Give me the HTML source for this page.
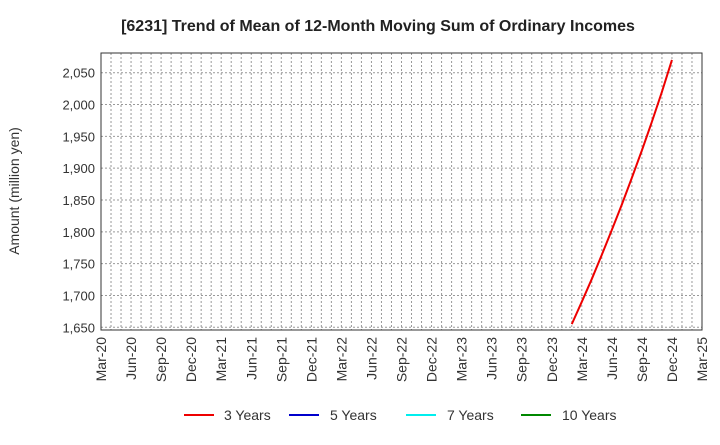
<!DOCTYPE html>
<html><head><meta charset="utf-8"><style>
body{margin:0;background:#fff;font-family:"Liberation Sans",Arial,sans-serif}
svg text{font-family:"Liberation Sans",Arial,sans-serif}
</style></head><body>
<svg id="c" width="720" height="440" xmlns="http://www.w3.org/2000/svg">
<text x="378" y="31" text-anchor="middle" font-size="16" font-weight="bold" fill="#222">[6231]  Trend of Mean of 12-Month Moving Sum of Ordinary Incomes</text>
<text transform="translate(19,191) rotate(-90)" text-anchor="middle" font-size="14" fill="#333">Amount (million yen)</text>
<g id="grid"></g><g id="axes"></g><g id="series"></g>
<g>
<line x1="184" y1="415" x2="214" y2="415" stroke="#e00" stroke-width="2"/><text x="224" y="420" font-size="14" fill="#333">3 Years</text>
<line x1="289" y1="415" x2="319" y2="415" stroke="#00c" stroke-width="2"/><text x="330" y="420" font-size="14" fill="#333">5 Years</text>
<line x1="406" y1="415" x2="436" y2="415" stroke="#0ee" stroke-width="2"/><text x="447" y="420" font-size="14" fill="#333">7 Years</text>
<line x1="521" y1="415" x2="551" y2="415" stroke="#080" stroke-width="2"/><text x="562" y="420" font-size="14" fill="#333">10 Years</text>
</g>
</svg>
<script>
const yTicks=[1650,1700,1750,1800,1850,1900,1950,2000,2050];
const xLabels=["Mar-20","Jun-20","Sep-20","Dec-20","Mar-21","Jun-21","Sep-21","Dec-21","Mar-22","Jun-22","Sep-22","Dec-22","Mar-23","Jun-23","Sep-23","Dec-23","Mar-24","Jun-24","Sep-24","Dec-24","Mar-25"];
const months3y=[47,48,49,50,51,52,53,54,55,56,57]; // months since Mar-20 (Feb-24..Dec-24)
const values3y=[1655,1690,1726,1764,1803,1843,1885,1928,1973,2020,2070];
const L=101,R=702,T=53,B=330;
const xs=m=>L+m*(R-L)/60;
const ys=v=>327.3-(v-1650)*(254.6/400);
const NS="http://www.w3.org/2000/svg";
function mk(t,a,p){const e=document.createElementNS(NS,t);for(const k in a)e.setAttribute(k,a[k]);p.appendChild(e);return e;}
const g=document.getElementById('grid'),ax=document.getElementById('axes'),s=document.getElementById('series');
for(let m=1;m<60;m++){const l=mk('line',{x1:xs(m),x2:xs(m),y1:T,y2:B,stroke:'#999','stroke-dasharray':'2,2','stroke-width':1},g);

}
yTicks.forEach(v=>{const l=mk('line',{x1:L,x2:R,y1:ys(v),y2:ys(v),stroke:'#999','stroke-dasharray':'2,2','stroke-width':1},g);


const t=mk('text',{x:L-6,y:ys(v)+5,'text-anchor':'end','font-size':13,fill:'#333'},ax);t.textContent=v.toLocaleString('en-US');

});
xLabels.forEach((lab,i)=>{const x=xs(i*3);const t=mk('text',{transform:`translate(${x+5},337) rotate(-90)`,'text-anchor':'end','font-size':14,fill:'#333'},ax);t.textContent=lab;

});
const f=mk('rect',{x:L,y:T,width:R-L,height:B-T,fill:'none',stroke:'#333','stroke-width':1},ax);


const p=mk('polyline',{points:months3y.map((m,i)=>xs(m)+','+ys(values3y[i])).join(' '),fill:'none',stroke:'#e00','stroke-width':2},s);


</script>
</body></html>
